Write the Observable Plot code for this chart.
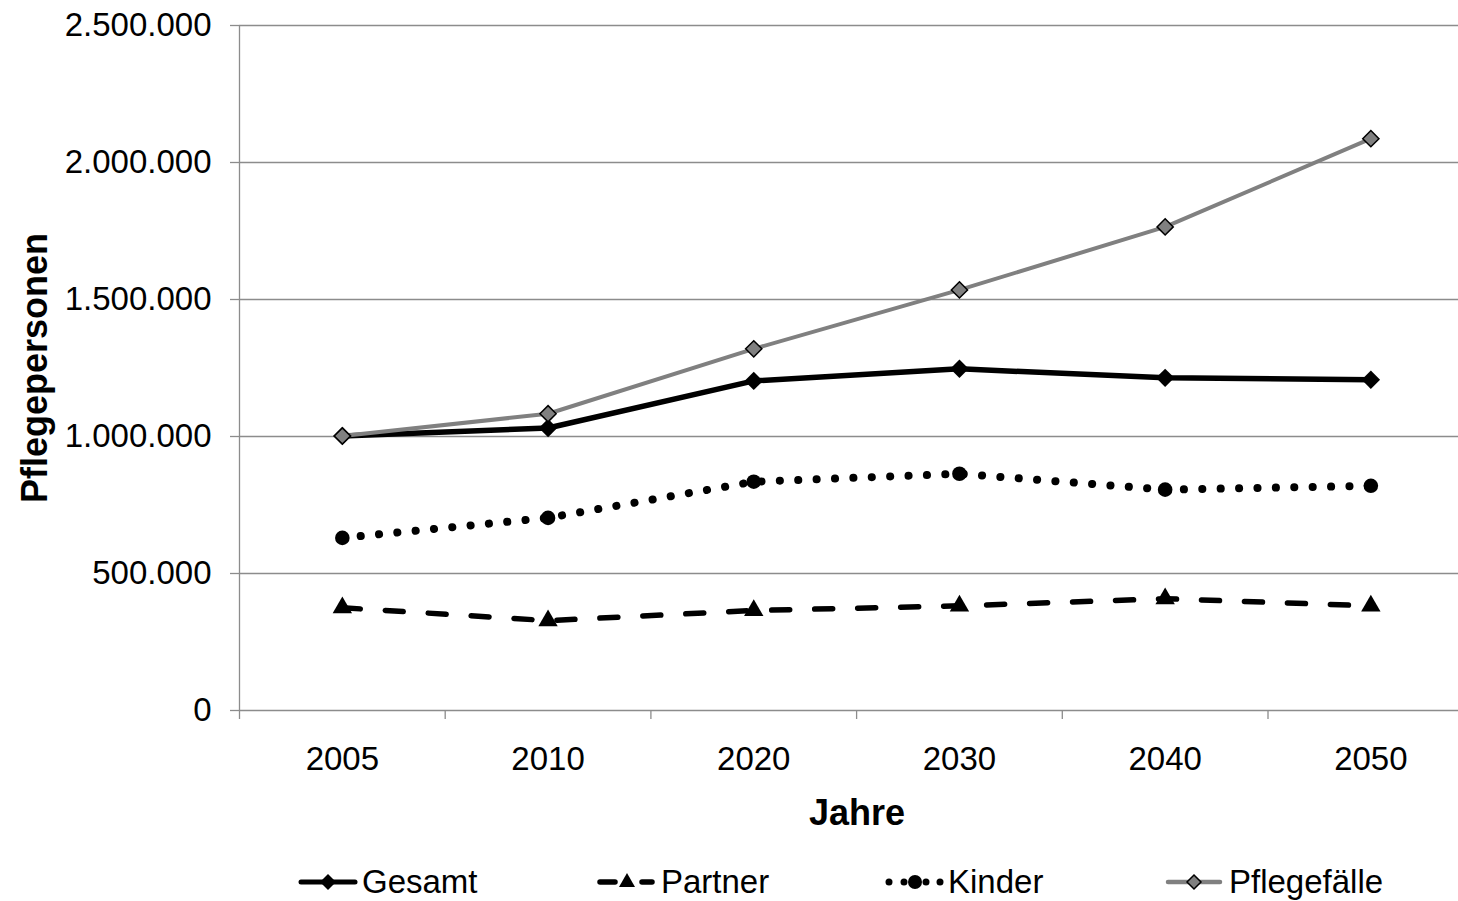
<!DOCTYPE html>
<html><head><meta charset="utf-8">
<script src="https://cdn.jsdelivr.net/npm/d3@7"></script>
<script src="https://cdn.jsdelivr.net/npm/@observablehq/plot@0.6"></script>
<style>
body{margin:0;background:#fff;font-family:"Liberation Sans",Arial,sans-serif;}
#chart{position:relative;width:1458px;height:901px;overflow:hidden;background:#fff}
#legend{position:absolute;top:862px;left:0;width:1458px;height:40px}
.item{position:absolute;top:0;height:40px;display:flex;align-items:center;font-size:33px;color:#000;white-space:nowrap}
.item svg{margin-right:4px}
</style></head><body>
<div id="chart"><div id="legend"></div></div>
<script>
// ---- data ----
const years = ["2005", "2010", "2020", "2030", "2040", "2050"];
const gesamt = [1002000, 1031000, 1203000, 1247000, 1214000, 1207000];
const partner = [375000, 328000, 365000, 382000, 408000, 382000];
const kinder = [630000, 703000, 835000, 864000, 806000, 820000];
const pflegefaelle = [1002000, 1083000, 1320000, 1535000, 1765000, 2087000];
const seriesNames = ["Gesamt", "Partner", "Kinder", "Pflegefälle"];
const yTicks = [0, 500000, 1000000, 1500000, 2000000, 2500000];
const xLabel = "Jahre";
const yLabel = "Pflegepersonen";

// ---- build rows ----
const seriesValues = [gesamt, partner, kinder, pflegefaelle];
const rows = seriesValues.map(vals => years.map((year, i) => ({i, year, v: vals[i]})));

const styles = [
  {line: {stroke: "#000", strokeWidth: 5.5, strokeLinejoin: "round"},
   dot: {symbol: "diamond2", r: 8.3, fill: "#000", stroke: "none"}},
  {line: {stroke: "#000", strokeWidth: 5.5, strokeDasharray: "18,25", strokeLinecap: "round"},
   dot: {symbol: "triangle", r: 7.2, fill: "#000", stroke: "none"}},
  {line: {stroke: "#000", strokeWidth: 8, strokeDasharray: "0.1,18.3", strokeLinecap: "round"},
   dot: {symbol: "circle", r: 7.3, fill: "#000", stroke: "none"}},
  {line: {stroke: "#808080", strokeWidth: 4, strokeLinejoin: "round"},
   dot: {symbol: "diamond2", r: 7.3, fill: "#808080", stroke: "#000", strokeWidth: 1.5}}
];

const H = 850;
const bottom = 710;
const step = 205.7;
const fmt = d3.formatLocale({decimal: ",", thousands: ".", grouping: [3], currency: ["", "€"]}).format(",");
const grid = "#8c8c8c";

const marks = [
  Plot.ruleY(yTicks, {stroke: grid, strokeWidth: 1.3}),
  Plot.ruleX([-0.5], {stroke: grid, strokeWidth: 1.3}),
  Plot.axisY({ticks: yTicks, tickFormat: fmt, tickSize: 9, tickPadding: 19, stroke: grid, strokeWidth: 1.3, fill: "#000", label: null}),
  Plot.axisX({ticks: d3.range(-0.5, years.length), tickSize: 9, tickFormat: () => "", stroke: grid, strokeWidth: 1.3, label: null}),
  Plot.axisX({ticks: d3.range(years.length), tickSize: 0, tickPadding: 36, tickFormat: i => years[i], fill: "#000", label: null}),
  Plot.text([xLabel], {frameAnchor: "bottom", dy: 103, dx: 8, lineAnchor: "middle", textAnchor: "middle", fontWeight: "bold", fontSize: 36, fill: "#000"}),
  Plot.text([yLabel], {frameAnchor: "left", dx: -204, rotate: -90, lineAnchor: "middle", textAnchor: "middle", fontWeight: "bold", fontSize: 36, fill: "#000"})
];
rows.forEach((r, k) => {
  marks.push(Plot.line(r, {x: "i", y: "v", ...styles[k].line}));
});
rows.forEach((r, k) => {
  marks.push(Plot.dot(r, {x: "i", y: "v", ...styles[k].dot}));
});

const chart = Plot.plot({
  width: 1458, height: H,
  marginLeft: 239, marginRight: 0, marginTop: 25, marginBottom: H - bottom,
  style: {fontFamily: '"Liberation Sans", Arial, sans-serif', fontSize: "33px", color: "#000", background: "#fff"},
  x: {type: "linear", domain: [-0.5, years.length - 0.5], range: [239, 239 + years.length * step]},
  y: {domain: [0, 2500000]},
  marks
});
document.getElementById("chart").prepend(chart);

// ---- legend ----
const legendLeft = [298, 597, 884, 1165];
const samples = [
  `<svg width="60" height="40"><line x1="3" y1="20" x2="57" y2="20" stroke="#000" stroke-width="5" stroke-linecap="round"/><path d="M30,12L38,20L30,28L22,20Z" fill="#000"/></svg>`,
  `<svg width="60" height="40"><line x1="3" y1="20" x2="18" y2="20" stroke="#000" stroke-width="5.5" stroke-linecap="round"/><line x1="45" y1="20" x2="55" y2="20" stroke="#000" stroke-width="5.5" stroke-linecap="round"/><path d="M30,11L38,25L22,25Z" fill="#000"/></svg>`,
  `<svg width="60" height="40"><circle cx="5" cy="20" r="3.5" fill="#000"/><circle cx="20" cy="20" r="3.5" fill="#000"/><circle cx="42" cy="20" r="3.5" fill="#000"/><circle cx="56" cy="20" r="3.5" fill="#000"/><circle cx="31" cy="20" r="7" fill="#000"/></svg>`,
  `<svg width="60" height="40"><line x1="3" y1="20" x2="55" y2="20" stroke="#808080" stroke-width="4.5" stroke-linecap="round"/><path d="M29,13L36,20L29,27L22,20Z" fill="#808080" stroke="#000" stroke-width="1.5"/></svg>`
];
const legend = document.getElementById("legend");
seriesNames.forEach((name, k) => {
  const div = document.createElement("div");
  div.className = "item";
  div.style.left = legendLeft[k] + "px";
  div.innerHTML = samples[k] + `<span>${name}</span>`;
  legend.appendChild(div);
});
</script>
</body></html>
